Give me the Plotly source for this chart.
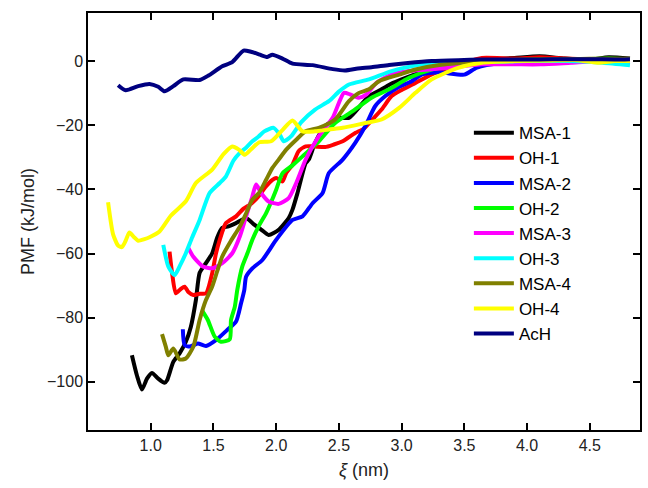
import plotly.graph_objects as go

# ---------------- data ----------------
msa1_x = [0.85,0.89,0.93,0.97,1.01,1.06,1.11,1.13,1.18,1.23,1.28,1.32,1.36,1.39,1.44,1.49,1.53,1.57,1.62,1.68,1.76,1.825,1.88,1.94,2.02,2.10,2.13,2.17,2.235,2.26,2.31,2.39,2.5,2.58,2.68,2.74,2.84,2.92,3.0,3.15,3.3,3.5,3.7,3.9,4.1,4.3,4.5,4.65,4.82]
msa1_y = [-91.7,-98,-102.4,-99,-97.2,-99,-100.3,-99.5,-93.75,-91.1,-87.5,-82.8,-74.5,-66,-63,-59.9,-55,-52,-51.5,-50.5,-48.9,-51,-52.5,-54.2,-52.6,-48.9,-46.3,-41.1,-31.8,-30.7,-25.5,-20.3,-17.7,-17.7,-13.5,-10.9,-8.8,-7,-5.7,-3.5,-1.5,0,0.5,1,1.5,0.8,0.5,1.2,0.8]

oh1_x = [1.15,1.17,1.20,1.24,1.27,1.30,1.34,1.39,1.44,1.49,1.52,1.55,1.60,1.68,1.74,1.79,1.84,1.88,1.92,1.97,2.0,2.05,2.08,2.13,2.18,2.235,2.30,2.39,2.46,2.53,2.63,2.70,2.76,2.84,2.92,3.0,3.11,3.27,3.5,3.64,3.9,4.1,4.3,4.5,4.7,4.82]
oh1_y = [-59.4,-66,-72.4,-71,-70.3,-72,-72.9,-72.5,-72.4,-66.1,-60,-55.7,-50.5,-48.4,-46,-44.8,-43,-41.1,-39,-37,-36.4,-37.5,-34.9,-32.3,-28,-26.6,-26.6,-26.8,-26,-25,-22.4,-21,-18.5,-15.1,-10.9,-9,-6.8,-3.6,-0.5,1,0.8,1.2,0.8,0.5,0.3,0.3]

msa2_x = [1.256,1.27,1.31,1.375,1.44,1.52,1.61,1.68,1.72,1.746,1.76,1.81,1.89,2.0,2.13,2.21,2.29,2.37,2.42,2.53,2.63,2.71,2.79,2.87,2.98,3.08,3.16,3.3,3.5,3.6,3.8,4.0,4.3,4.6,4.82]
msa2_y = [-83.6,-88.5,-89,-88,-88.8,-87,-83.8,-81.2,-75.5,-71.3,-67.2,-64.6,-62,-55.7,-49.5,-48.4,-44.3,-41.1,-34.9,-30.7,-25.5,-20.3,-14,-10.9,-8,-6.25,-4.2,-3.5,-4.2,-2,-0.5,0,0.3,0.5,0.3]

oh2_x = [1.41,1.455,1.51,1.56,1.63,1.64,1.67,1.69,1.73,1.77,1.81,1.86,1.92,1.97,2.0,2.05,2.13,2.21,2.34,2.47,2.61,2.76,2.9,3.06,3.25,3.5,3.8,4.1,4.4,4.65,4.82]
oh2_y = [-77.8,-80.7,-85.9,-87.5,-86.7,-80.7,-76.6,-71.3,-64,-60,-55.7,-51.5,-47.4,-43,-40.1,-35,-32.5,-29.7,-25,-19.3,-15.6,-11.4,-8.8,-5.2,-2.5,-0.5,0.3,0.5,0.5,0.8,0.5]

msa3_x = [1.296,1.34,1.415,1.49,1.57,1.65,1.71,1.76,1.81,1.84,1.88,1.94,2.02,2.10,2.16,2.235,2.34,2.45,2.54,2.59,2.66,2.72,2.80,2.92,3.06,3.37,3.64,3.9,4.11,4.35,4.59,4.82]
msa3_y = [-58,-61,-64,-64.6,-63,-59.9,-54.7,-48.4,-42.2,-38.5,-41.1,-43.75,-44.5,-42.7,-38,-30.7,-23.4,-17.7,-9.9,-10.4,-11.4,-10.4,-6.75,-4.2,-3.1,-2.1,-1,-1,-1,-0.5,0,-0.5]

oh3_x = [1.10,1.14,1.19,1.23,1.28,1.33,1.39,1.47,1.55,1.60,1.66,1.71,1.76,1.81,1.86,1.905,1.98,2.03,2.06,2.12,2.2,2.31,2.42,2.50,2.58,2.74,2.92,3.16,3.4,3.7,4.0,4.3,4.6,4.82]
oh3_y = [-57.3,-64,-66.7,-64,-59.9,-55,-49.5,-41.1,-38,-35.9,-31,-28.6,-27,-25,-23.5,-21.9,-20.8,-23,-25,-23.4,-19,-15.1,-12.5,-9.5,-7.3,-5.7,-3.1,-1.0,-0.5,-0.3,0,0,-0.5,-1.3]

msa4_x = [1.09,1.12,1.14,1.18,1.23,1.28,1.34,1.39,1.44,1.49,1.53,1.57,1.64,1.71,1.76,1.81,1.865,1.92,1.97,2.02,2.08,2.16,2.235,2.34,2.47,2.58,2.66,2.74,2.82,2.98,3.11,3.3,3.6,3.9,4.2,4.5,4.82]
msa4_y = [-85.1,-89,-91.7,-89.6,-93,-92.7,-89,-80.7,-74.5,-70.3,-65.5,-60.9,-56,-51.6,-47.5,-43.2,-41,-37,-33.3,-30.7,-27.6,-24.5,-21.9,-20.8,-18.2,-12.5,-9.9,-8.8,-6.25,-4.2,-2.6,-1.2,-0.2,0.3,0.5,0.7,0.7]

oh4_x = [0.66,0.70,0.74,0.77,0.80,0.83,0.87,0.90,0.95,0.99,1.07,1.16,1.28,1.36,1.49,1.58,1.65,1.70,1.75,1.80,1.865,1.96,2.05,2.13,2.21,2.31,2.42,2.53,2.71,2.84,2.98,3.11,3.24,3.45,3.64,3.9,4.2,4.4,4.56,4.7,4.82]
oh4_y = [-44,-54,-57.5,-58,-56,-53.4,-55,-56,-55.5,-54.9,-53.1,-48.2,-43.7,-38,-33.8,-29,-26.6,-27.5,-29.2,-27.5,-25.3,-25,-21.5,-18.5,-21.9,-21.9,-21.3,-20.8,-19.3,-18.2,-14.6,-9.9,-5.7,-2.1,-0.5,0,0.2,0.3,-0.5,0,0]

ach_x = [0.74,0.80,0.90,0.99,1.06,1.11,1.18,1.26,1.39,1.46,1.57,1.65,1.74,1.80,1.87,1.93,1.97,2.05,2.13,2.29,2.45,2.55,2.65,2.76,2.9,3.05,3.24,3.45,3.64,3.9,4.1,4.3,4.5,4.7,4.82]
ach_y = [-7.5,-9.1,-7.8,-7.1,-8.0,-9.4,-7.8,-5.7,-5.9,-4.5,-1.6,-0.3,3.3,2.9,2.0,1.3,2.0,0.8,-0.8,-1.25,-2.5,-2.9,-2.3,-1.9,-1.2,-0.6,0,0.3,0.5,0.5,0.5,0.6,0.6,0.5,0.6]

names = ["MSA-1", "OH-1", "MSA-2", "OH-2", "MSA-3", "OH-3", "MSA-4", "OH-4", "AcH"]
xs = [msa1_x, oh1_x, msa2_x, oh2_x, msa3_x, oh3_x, msa4_x, oh4_x, ach_x]
ys = [msa1_y, oh1_y, msa2_y, oh2_y, msa3_y, oh3_y, msa4_y, oh4_y, ach_y]
colors = ["#000000", "#ff0000", "#0000ff", "#00ff00", "#ff00ff",
          "#00ffff", "#808000", "#ffff00", "#000080"]

x_ticks = [1.0, 1.5, 2.0, 2.5, 3.0, 3.5, 4.0, 4.5]
y_ticks = [-100, -80, -60, -40, -20, 0]

fig = go.Figure()
for n, x, y, c in zip(names, xs, ys, colors):
    fig.add_trace(go.Scatter(x=x, y=y, mode="lines", name=n,
                             line=dict(color=c, width=4, shape="spline", smoothing=0.6)))

FONT = "Liberation Sans, Arial"
axis_common = dict(showline=True, linecolor="black", linewidth=1.5, mirror="ticks",
                   ticks="inside", ticklen=7, tickwidth=1.5, tickcolor="black",
                   showgrid=False, zeroline=False,
                   tickfont=dict(family=FONT, size=16, color="#222"))

fig.update_layout(
    width=648, height=488,
    margin=dict(l=88, r=6, t=13, b=58),
    plot_bgcolor="white", paper_bgcolor="white",
    xaxis=dict(range=[0.5, 4.9], tickvals=x_ticks, ticktext=[f"{v:.1f}" for v in x_ticks],
               title=dict(text="<i>ξ</i> (nm)", font=dict(family=FONT, size=18, color="#222"), standoff=10),
               **axis_common),
    yaxis=dict(range=[-115, 15], tickvals=y_ticks,
               title=dict(text="PMF (kJ/mol)", font=dict(family=FONT, size=18, color="#222"), standoff=8),
               **axis_common),
    legend=dict(x=0.69, y=0.755, xanchor="left", yanchor="top",
                font=dict(family=FONT, size=17, color="black"),
                bgcolor="rgba(0,0,0,0)", itemwidth=40, tracegroupgap=0),
    showlegend=True,
)

fig.write_html("out.html")
